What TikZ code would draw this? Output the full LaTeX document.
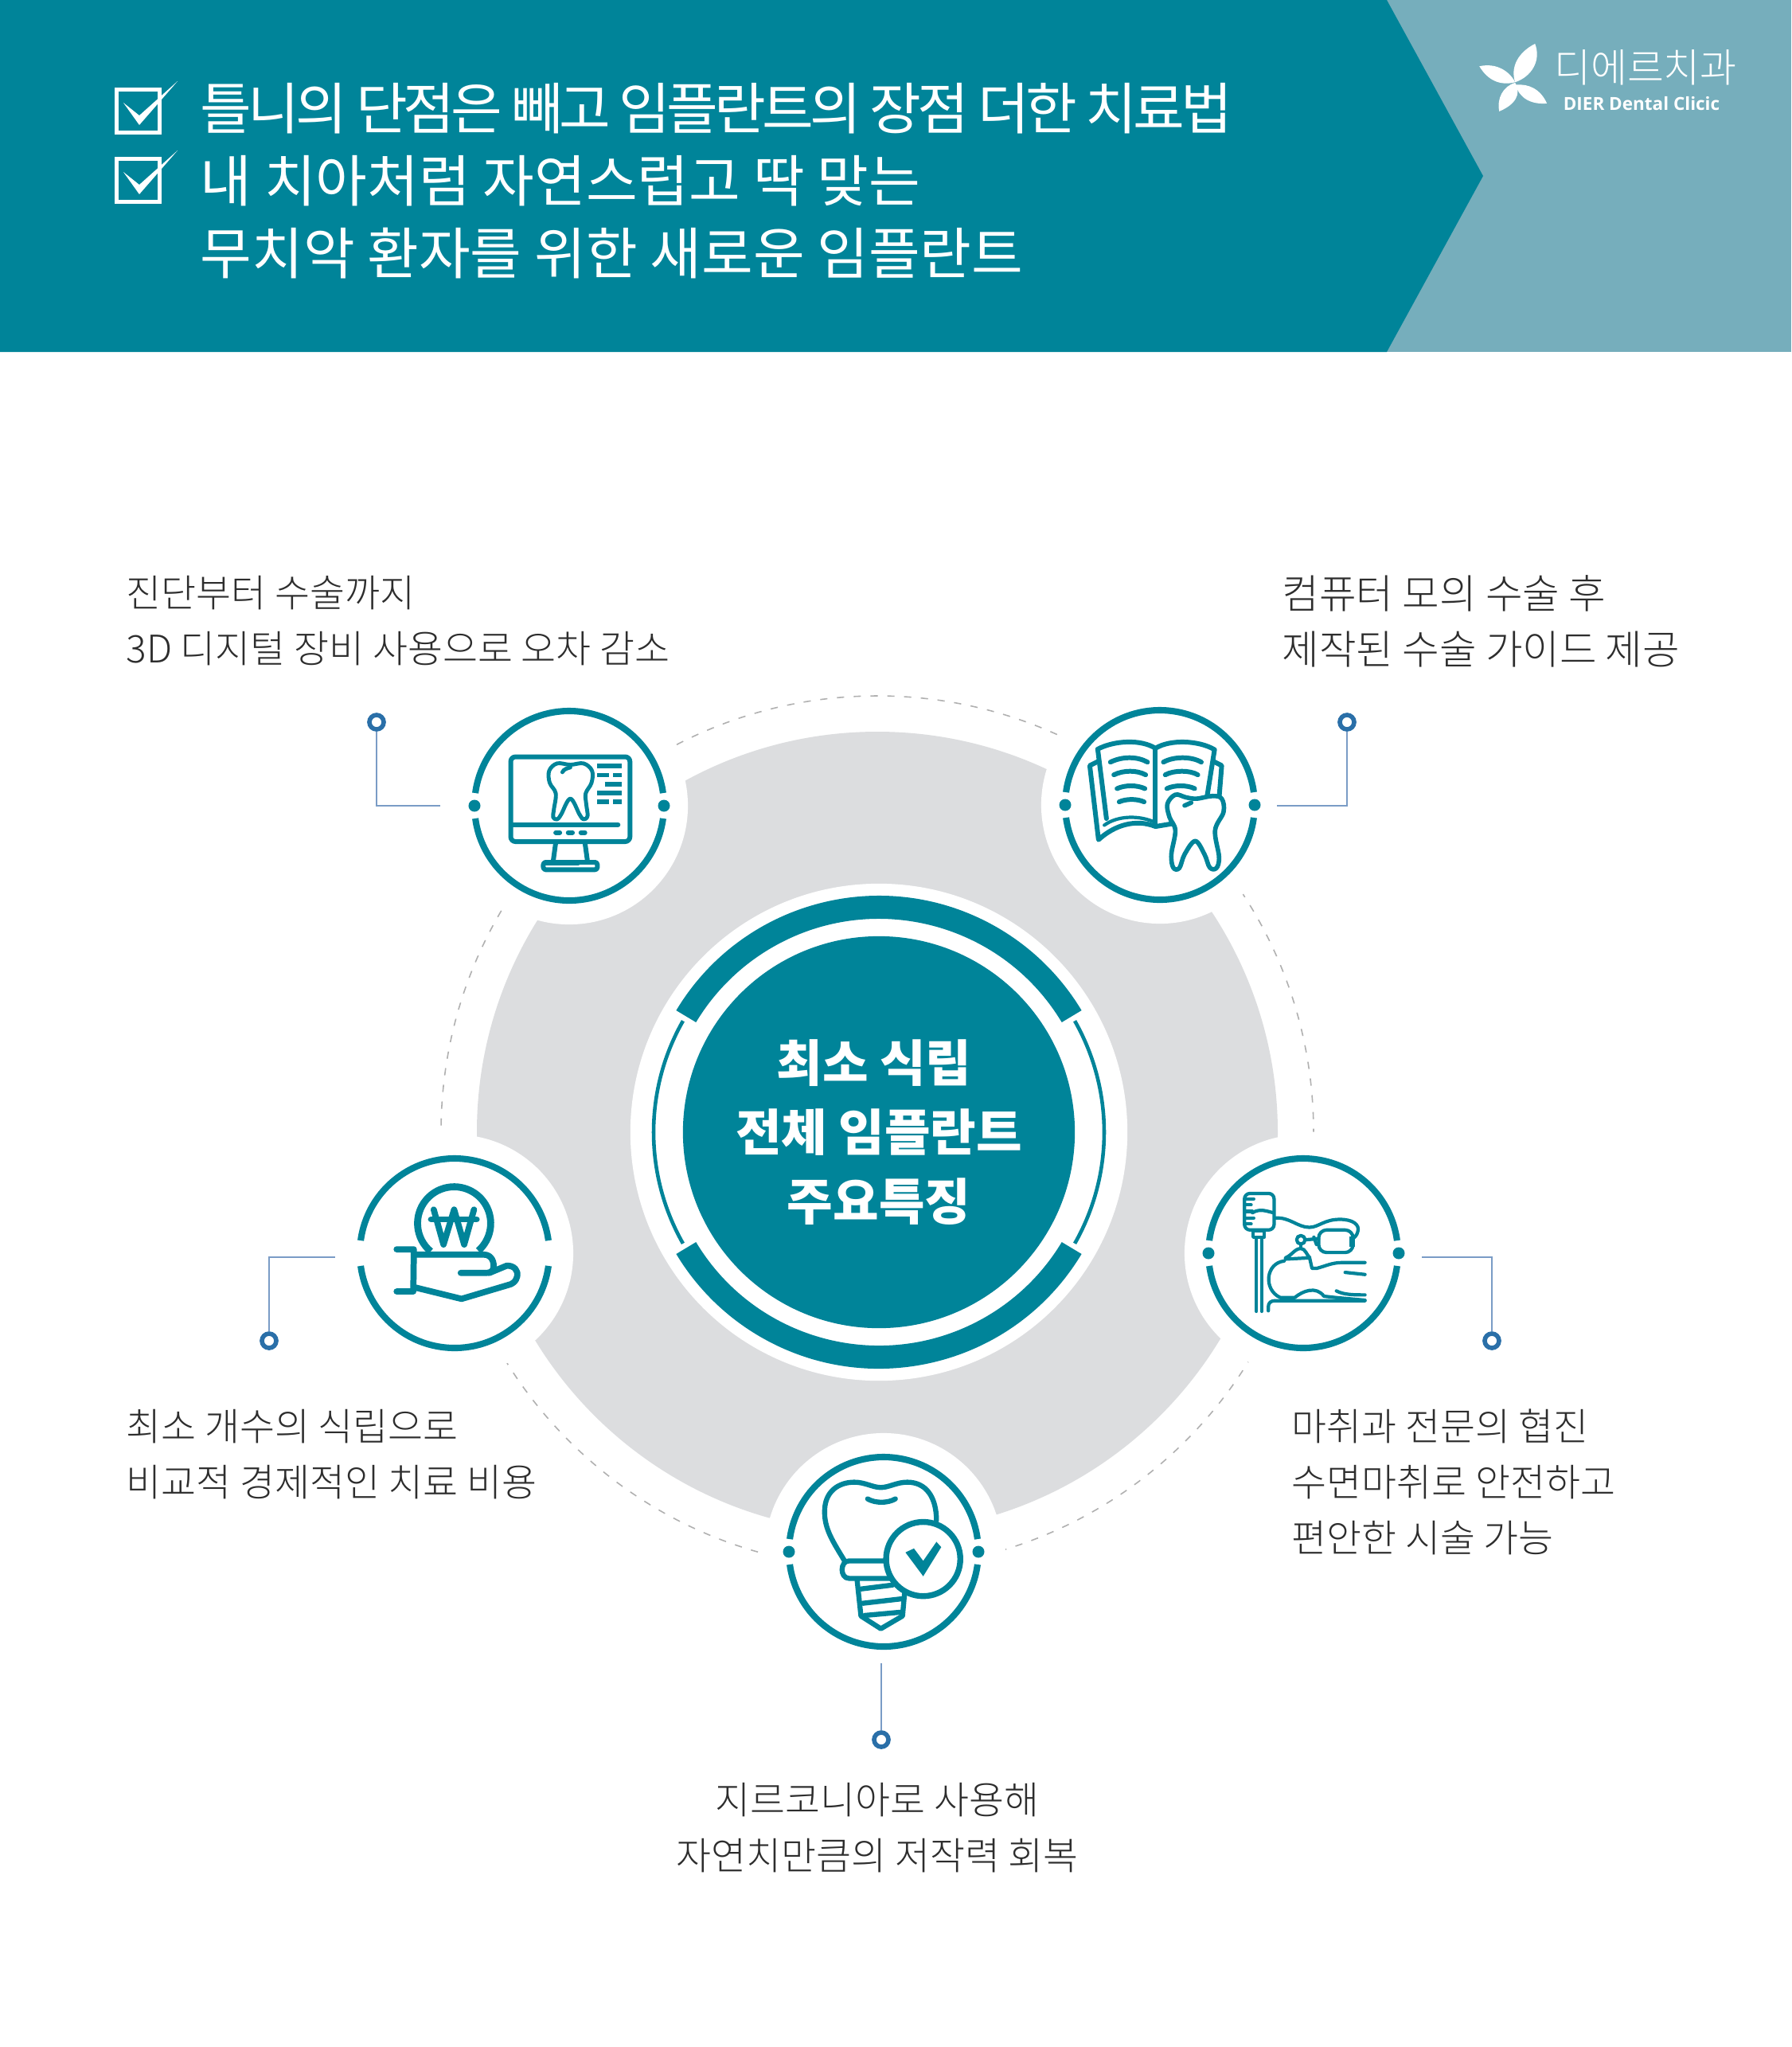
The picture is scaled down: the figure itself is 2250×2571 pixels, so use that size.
\documentclass[tikz,border=0pt]{standalone}
\usepackage{fontspec}
\setmainfont{Noto Sans CJK KR}
\newfontfamily\lightfont{Noto Sans CJK KR Light}
\newfontfamily\tightfont{Noto Sans CJK KR}[LetterSpace=-6.9]
\newfontfamily\logofont{Open Sans}
\definecolor{dierteal}{RGB}{0,132,153}
\definecolor{dierpale}{RGB}{118,174,188}
\definecolor{diergray}{RGB}{220,221,223}
\definecolor{dierdash}{RGB}{176,176,176}
\definecolor{dierlead}{RGB}{122,156,198}
\definecolor{dierpin}{RGB}{42,111,168}
\definecolor{diertext}{RGB}{45,45,45}
\tikzset{
    zoomed/.style={x=0.003333cm,y=-0.003333cm},
    iconline/.style={draw=dierteal,line width=1.7pt,line cap=round,line join=round},
    ring/.style={draw=dierteal,line width=2.3pt},
    halo/.style={circle,fill=white,minimum size=2.98cm,inner sep=0pt},
    dotmark/.style={circle,fill=dierteal,minimum size=0.15cm,inner sep=0pt},
    pinmark/.style={circle,draw=dierpin,fill=white,line width=1.6pt,minimum size=0.18cm,inner sep=0pt},
    leadline/.style={draw=dierlead,line width=0.5pt},
    notetext/.style={font=\lightfont\fontsize{13.6}{19.9}\selectfont,text=diertext,inner sep=0pt},
    titletext/.style={font=\fontsize{20}{25.9}\selectfont,text=white,inner sep=0pt,align=left,anchor=west}
}
\begin{document}
\begin{tikzpicture}[x=0.01cm,y=-0.01cm]
    \fill [white] (0,0) rectangle (2250,2571);
    \useasboundingbox (0,0) rectangle (2250,2571);

    \fill [dierpale] (1700,0) rectangle (2250,442);
    \fill [dierteal] (0,0) -- (1742,0) -- (1863,221) -- (1742,442) -- (0,442) -- cycle;

    \draw [white,line width=1.45pt] (146.5,112.5) rectangle (200.5,166.5);
    \fill [white] (155,129) -- (175,145) -- (223,102) -- (175,157) -- cycle;
    \draw [white,line width=1.45pt] (146.5,199.5) rectangle (200.5,253.5);
    \fill [white] (155,216) -- (175,232) -- (223,189) -- (175,244) -- cycle;
    \node (headline) [titletext] at (251,227) {{\tightfont 틀니의 단점은 빼고 임플란트의 장점 더한 치료법}\\내 치아처럼 자연스럽고 딱 맞는\\무치악 환자를 위한 새로운 임플란트};

    \begin{scope}[shift={(1840,40)},zoomed]
        \fill [white] (265,45) .. controls (205,75) and (170,130) .. (190,190) .. controls (250,170) and (290,110) .. (265,45) -- cycle;
        \fill [white] (55,130) .. controls (120,115) and (170,150) .. (190,190) .. controls (130,205) and (85,180) .. (55,130) -- cycle;
        \fill [white] (130,300) .. controls (120,250) and (145,205) .. (190,192) .. controls (215,235) and (190,275) .. (130,300) -- cycle;
        \fill [white] (310,270) .. controls (285,215) and (240,195) .. (192,200) .. controls (205,250) and (250,275) .. (310,270) -- cycle;
    \end{scope}
    \node (logokr) [font=\lightfont\fontsize{14.2}{16}\selectfont,text=white,inner sep=0pt] at (2067,85) {디에르치과};
    \node (logoen) [font=\logofont\bfseries\fontsize{6.4}{8}\selectfont,text=white,inner sep=0pt] at (2062,130) {DIER Dental Clicic};

    \coordinate (C) at (1104,1422);
    \coordinate (K1) at (715,1012);
    \coordinate (K2) at (1457,1011);
    \coordinate (K3) at (571,1574);
    \coordinate (K4) at (1637,1574);
    \coordinate (K5) at (1110,1949);

    \draw [dierdash,line width=0.45pt,dash pattern=on 2.6pt off 3.4pt] (1102,1422) circle (548);
    \fill [white] (K1) circle (153);
    \fill [white] (K2) circle (153);
    \fill [white] (K3) circle (153);
    \fill [white] (K4) circle (153);
    \fill [white] (K5) circle (153);
    \fill [diergray] (1102,1422) circle (503);

    \node (H1) [halo] at (K1) {};
    \node (H2) [halo] at (K2) {};
    \node (H3) [halo] at (K3) {};
    \node (H4) [halo] at (K4) {};
    \node (H5) [halo] at (K5) {};

    \node (hubhalo) [circle,fill=white,minimum size=6.24cm,inner sep=0pt] at (C) {};
    \fill [dierteal] (C) ++(31:297) arc (31:149:297) -- ++(149:-29) arc (149:31:268) -- cycle;
    \fill [dierteal] (C) ++(211:297) arc (211:329:297) -- ++(329:-29) arc (329:211:268) -- cycle;
    \draw [dierteal,line width=1.3pt] (C) ++(-29.6:283) arc (-29.6:29.6:283);
    \draw [dierteal,line width=1.3pt] (C) ++(150.4:283) arc (150.4:209.6:283);
    \node (hub) [circle,fill=dierteal,minimum size=4.92cm,inner sep=0pt,align=center,text=white,font=\bfseries\fontsize{17.8}{24.8}\selectfont] at (C) {최소 식립\hspace*{3.3pt}\\전체 임플란트\\주요특징};

    \draw [ring] (H1) ++(7.7:119) arc (7.7:172.3:119);
    \draw [ring] (H1) ++(187.7:119) arc (187.7:352.3:119);
    \draw [ring] (H2) ++(7.7:119) arc (7.7:172.3:119);
    \draw [ring] (H2) ++(187.7:119) arc (187.7:352.3:119);
    \draw [ring] (H3) ++(7.7:119) arc (7.7:172.3:119);
    \draw [ring] (H3) ++(187.7:119) arc (187.7:352.3:119);
    \draw [ring] (H4) ++(7.7:119) arc (7.7:172.3:119);
    \draw [ring] (H4) ++(187.7:119) arc (187.7:352.3:119);
    \draw [ring] (H5) ++(7.7:119) arc (7.7:172.3:119);
    \draw [ring] (H5) ++(187.7:119) arc (187.7:352.3:119);

    \node (D1a) [dotmark] at (596,1012) {};
    \node (D1b) [dotmark] at (834,1012) {};
    \node (D2a) [dotmark] at (1338,1011) {};
    \node (D2b) [dotmark] at (1576,1011) {};
    \node (D4a) [dotmark] at (1518,1574) {};
    \node (D4b) [dotmark] at (1757,1574) {};
    \node (D5a) [dotmark] at (991,1949) {};
    \node (D5b) [dotmark] at (1229,1949) {};

    \begin{scope}[shift={(560,860)},zoomed]
        \draw [iconline,rounded corners=0.06cm] (245,272) rectangle (695,592);
        \draw [iconline] (250,528) -- (650,528);
        \draw [iconline] (415,558) -- (430,558);
        \draw [iconline] (462,558) -- (478,558);
        \draw [iconline] (510,558) -- (525,558);
        \draw [iconline] (415,595) -- (405,668);
        \draw [iconline] (525,595) -- (535,668);
        \draw [iconline,rounded corners=0.03cm] (368,670) rectangle (572,698);
        \draw [iconline] (378,672) -- (500,672);
        \draw [iconline,line width=1.4pt] plot [smooth cycle,tension=0.6] coordinates {(470,302) (420,297) (390,325) (392,370) (415,410) (408,470) (405,500) (420,508) (435,490) (470,430) (505,490) (520,508) (535,495) (530,450) (528,410) (550,370) (552,325) (520,297)};
        \draw [iconline,line width=1.4pt] (440,330) .. controls (445,318) and (460,315) .. (470,312);
        \draw [iconline,line cap=butt] (572,307) -- (665,307);
        \draw [iconline,line cap=butt] (572,341) -- (615,341);
        \draw [iconline,line cap=butt] (632,341) -- (665,341);
        \draw [iconline,line cap=butt] (600,375) -- (665,375);
        \draw [iconline,line cap=butt] (572,409) -- (665,409);
        \draw [iconline,line cap=butt] (572,443) -- (615,443);
        \draw [iconline,line cap=butt] (632,443) -- (665,443);
    \end{scope}

    \begin{scope}[shift={(1300,860)},zoomed]
        \draw [iconline] (270,505) -- (237,243) .. controls (300,210) and (400,205) .. (455,240) .. controls (510,205) and (620,210) .. (678,245) -- (650,420);
        \draw [iconline] (455,240) -- (455,530);
        \draw [iconline] (237,290) -- (207,305) -- (240,585) .. controls (300,530) and (380,505) .. (455,535) -- (515,525);
        \draw [iconline,line width=1.2pt] (262,530) .. controls (310,495) and (390,490) .. (455,520);
        \draw [iconline] (675,290) -- (705,305) -- (695,430);
        \draw [iconline] (285,292) .. controls (330,270) and (385,270) .. (425,292);
        \draw [iconline] (298,340) .. controls (335,322) and (385,322) .. (418,340);
        \draw [iconline] (310,392) .. controls (340,378) and (385,378) .. (415,392);
        \draw [iconline] (318,442) .. controls (345,430) and (385,430) .. (412,442);
        \draw [iconline] (485,292) .. controls (525,270) and (590,270) .. (628,292);
        \draw [iconline] (492,340) .. controls (525,322) and (585,322) .. (615,340);
        \draw [iconline] (498,392) .. controls (525,378) and (575,378) .. (603,392);
        \draw [iconline,fill=white,line width=1.6pt] plot [smooth cycle,tension=0.6] coordinates {(570,425) (530,415) (500,450) (508,500) (530,550) (515,640) (522,690) (545,692) (565,640) (605,590) (640,640) (660,690) (685,692) (695,650) (680,550) (712,480) (705,430) (670,420) (610,430)};
        \draw [iconline,line width=1.6pt] (565,456) -- (590,445);
    \end{scope}

    \begin{scope}[shift={(430,1430)},zoomed]
        \draw [iconline,line cap=butt,line width=2.5pt] (422,320) ++(130:138) arc (130:408.5:138);
        \draw [iconline,line width=2.2pt] (345,268) -- (382,400) -- (422,268) -- (460,400) -- (497,268);
        \draw [iconline,line width=2.2pt] (335,305) -- (507,305);
        \draw [iconline,line width=2.2pt] (205,418) -- (270,418) -- (268,577) -- (205,577);
        \draw [iconline,line width=2.2pt] (270,438) -- (535,438) .. controls (565,438) and (575,470) .. (570,490) .. controls (565,505) and (555,507) .. (540,507) -- (447,507);
        \draw [iconline,line width=2.2pt] (555,507) -- (620,480) .. controls (650,478) and (665,500) .. (660,520) .. controls (655,540) and (645,545) .. (635,550) -- (450,605) -- (275,562);
    \end{scope}

    \begin{scope}[shift={(1480,1430)},zoomed,iconsmall/.style={iconline,line width=1.2pt}]
        \draw [iconsmall,rounded corners=0.07cm] (250,207) rectangle (362,345);
        \draw [iconsmall] (283,348) rectangle (325,372);
        \draw [iconsmall] (295,375) -- (295,652);
        \draw [iconsmall] (315,375) -- (315,652);
        \draw [iconsmall] (255,228) -- (285,228);
        \draw [iconsmall] (255,250) -- (275,250);
        \draw [iconsmall] (255,275) -- (280,275);
        \draw [iconsmall] (255,300) -- (285,300);
        \draw [iconsmall] (255,322) -- (275,322);
        \draw [iconsmall] (280,280) .. controls (310,262) and (335,275) .. (360,280);
        \draw [iconsmall] (365,300) .. controls (420,295) and (450,335) .. (495,335) .. controls (530,335) and (550,305) .. (610,305) .. controls (660,305) and (685,325) .. (678,350) .. controls (675,365) and (665,375) .. (655,380);
        \draw [iconsmall,rounded corners=0.1cm] (530,345) rectangle (660,430);
        \fill [dierteal] (645,370) rectangle (668,410);
        \draw [iconsmall] (463,382) circle (16);
        \draw [iconsmall] (480,382) -- (530,378);
        \draw [iconsmall] (512,372) -- (522,400);
        \draw [iconsmall] (463,398) -- (463,412);
        \draw [iconsmall] (405,450) .. controls (430,440) and (440,415) .. (463,415) .. controls (480,415) and (485,440) .. (497,450) -- (405,455) -- cycle;
        \draw [iconsmall] (400,462) .. controls (330,470) and (320,570) .. (385,600) -- (440,600) .. controls (470,575) and (520,555) .. (550,595) -- (595,600) -- (705,610);
        \draw [iconsmall] (497,455) -- (505,490) -- (522,490) .. controls (560,480) and (580,468) .. (620,468) -- (705,468);
        \draw [iconsmall] (630,505) -- (705,513);
        \draw [iconsmall] (597,575) .. controls (625,590) and (665,590) .. (705,590);
        \draw [iconsmall] (340,650) -- (340,635) .. controls (340,620) and (350,612) .. (365,612) -- (705,612);
    \end{scope}

    \begin{scope}[shift={(960,1810)},zoomed]
        \draw [iconline,line width=1.8pt] (305,455) .. controls (260,380) and (225,330) .. (228,260) .. controls (230,190) and (280,155) .. (340,155) .. controls (380,155) and (410,175) .. (440,175) .. controls (470,175) and (500,155) .. (540,155) .. controls (610,155) and (650,210) .. (650,300);
        \draw [iconline,line width=1.8pt] (390,218) .. controls (420,235) and (465,235) .. (495,218);
        \draw [iconline,line width=1.8pt] (460,452) -- (320,452) .. controls (285,452) and (285,518) .. (320,518) -- (480,518);
        \draw [iconline,line width=1.8pt] (350,520) -- (365,660) -- (440,708) -- (522,660) -- (530,570);
        \draw [iconline,line width=1.8pt] (365,558) -- (485,543);
        \draw [iconline,line width=1.8pt] (372,612) -- (520,595);
        \draw [iconline,line width=1.8pt] (378,658) -- (522,645);
        \draw [iconline,line width=2.1pt,fill=white] (600,445) circle (140);
        \fill [dierteal] (533,420) -- (565,405) -- (600,452) -- (650,380) -- (668,400) -- (600,510) -- cycle;
    \end{scope}

    \node (P1) [pinmark] at (473,907) {};
    \coordinate (L1) at (553,1012);
    \draw [leadline] (P1) |- (L1);
    \node (P2) [pinmark] at (1692,907) {};
    \coordinate (L2) at (1604,1012);
    \draw [leadline] (P2) |- (L2);
    \node (P3) [pinmark] at (338,1684) {};
    \coordinate (L3) at (421,1579);
    \draw [leadline] (P3) |- (L3);
    \node (P4) [pinmark] at (1874,1684) {};
    \coordinate (L4) at (1786,1579);
    \draw [leadline] (P4) |- (L4);
    \node (P5) [pinmark] at (1107,2185) {};
    \coordinate (L5) at (1107,2089);
    \draw [leadline] (P5) -- (L5);

    \node (N1) [notetext,align=left,anchor=west] at (158,780) {진단부터 수술까지\\3D 디지털 장비 사용으로 오차 감소};
    \node (N2) [notetext,font=\lightfont\fontsize{14.4}{19.9}\selectfont,align=left,anchor=west] at (1610,780) {컴퓨터 모의 수술 후\\제작된 수술 가이드 제공};
    \node (N3) [notetext,align=left,anchor=west] at (158,1827) {최소 개수의 식립으로\\비교적 경제적인 치료 비용};
    \node (N4) [notetext,align=left,anchor=west] at (1622,1861) {마취과 전문의 협진\\수면마취로 안전하고\\편안한 시술 가능};
    \node (N5) [notetext,align=center] at (1102,2296) {지르코니아로 사용해\\자연치만큼의 저작력 회복};
\end{tikzpicture}
\end{document}
